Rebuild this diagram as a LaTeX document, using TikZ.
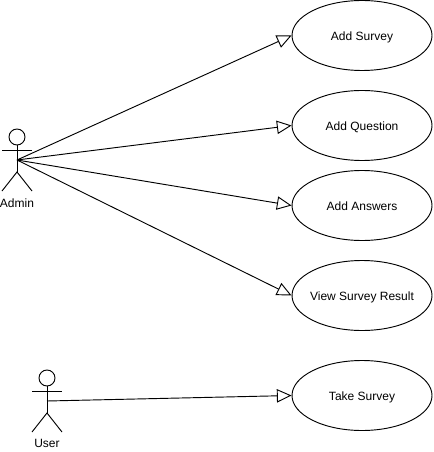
\documentclass[tikz,border=0pt]{standalone}
\usepackage{fontspec}
\setmainfont{Liberation Sans}
\usetikzlibrary{arrows.meta,shapes.geometric}
\tikzset{
    usecase/.style={draw,ellipse,minimum width=105pt,minimum height=52.5pt,inner ysep=0pt,inner xsep=-5pt,text height=7.5pt,text depth=0pt,font=\fontsize{9}{11}\selectfont},
    actorname/.style={font=\fontsize{9}{11}\selectfont,text height=7.5pt,text depth=0pt},
    assoc/.style={-{Triangle[open,length=11pt,width=10pt]}},
    actor/.pic={
        \draw (0,-23) circle [radius=6pt];
        \draw (0,-15)--(0,12);
        \draw (-15,-10)--(15,-10);
        \draw (-15,31)--(0,12)--(15,31);
    }
}
\begin{document}
\begin{tikzpicture}[x=.75pt,y=-.75pt,line width=.7pt]
                \useasboundingbox (0,0) rectangle (433,452);
                \node [usecase] (survey) at (362,35.5) {Add Survey};
                \node [usecase] (question) at (362,125.5) {Add Question};
                \node [usecase] (answers) at (362,205.5) {Add Answers};
                \node [usecase] (result) at (362,295.5) {View Survey Result};
                \node [usecase] (take) at (362,395.5) {Take Survey};
                \pic at (17,160) {actor};
                \pic at (47,401) {actor};
                \coordinate (admin) at (17,160);
                \coordinate (user) at (47,401);
                \node [actorname] (adminname) at (17,202) {Admin};
                \node [actorname] (username) at (47,442) {User};
                \draw [assoc] (admin) -- (survey.west);
                \draw [assoc] (admin) -- (question.west);
                \draw [assoc] (admin) -- (answers.west);
                \draw [assoc] (admin) -- (result.west);
                \draw [assoc] (user) -- (take.west);
            \end{tikzpicture}
\end{document}
